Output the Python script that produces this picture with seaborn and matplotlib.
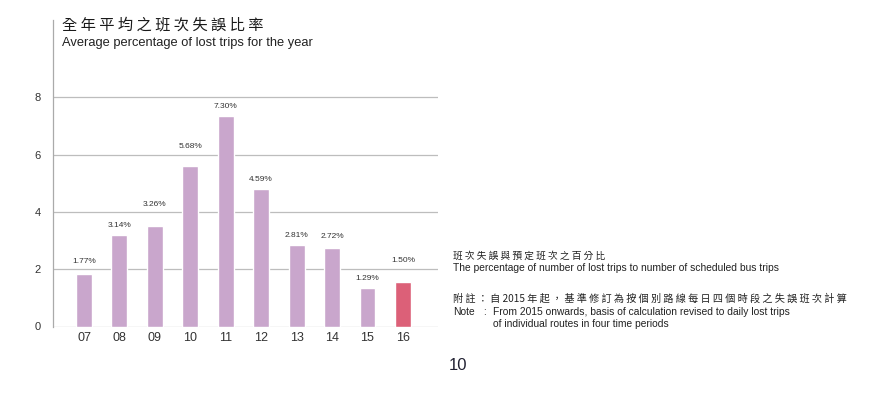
import matplotlib
matplotlib.use("Agg")
import matplotlib.pyplot as plt
import seaborn as sns
import pandas as pd

years = ["07", "08", "09", "10", "11", "12", "13", "14", "15", "16"]
heights = [1.84, 3.20, 3.51, 5.60, 7.35, 4.81, 2.86, 2.74, 1.35, 1.57]
labels = ["1.77%", "3.14%", "3.26%", "5.68%", "7.30%", "4.59%", "2.81%", "2.72%", "1.29%", "1.50%"]
yticks = [0, 2, 4, 6, 8]

title_zh = "全年平均之班次失誤比率"
title_en = "Average percentage of lost trips for the year"
desc_zh = "班次失誤與預定班次之百分比"
desc_en = "The percentage of number of lost trips to number of scheduled bus trips"
note_zh_a = "附註：自"
note_zh_year = "2015"
note_zh_b = "年起，基準修訂為按個別路線每日四個時段之失誤班次計算"
note_en1 = "From 2015 onwards, basis of calculation revised to daily lost trips"
note_en2 = "of individual routes in four time periods"
page_no = "10"

sns.set_theme(style="white")
plt.rcParams["font.family"] = ["Liberation Sans", "Noto Sans CJK TC", "DejaVu Sans"]
CJK = ["Noto Sans CJK TC", "DejaVu Sans"]

W, H = 885, 394
fig = plt.figure(figsize=(W / 100, H / 100), dpi=100)
fig.patch.set_facecolor("white")
ax = fig.add_axes([53 / W, 1 - 326.5 / H, (438 - 53) / W, (326.5 - 20) / H])

df = pd.DataFrame({"year": years, "value": heights})
bar_colors = ["#C9A6CC"] * (len(years) - 1) + ["#DC6078"]
sns.barplot(data=df, x="year", y="value", hue="year", palette=bar_colors,
            legend=False, width=0.45, saturation=1, ax=ax, zorder=3)

ax.set_xlim(-0.875, 9.99)
ax.set_ylim(0, 10.7)
ax.set_yticks(yticks)
ax.set_yticklabels([str(t) for t in yticks], fontsize=8, color="#333333")
ax.tick_params(axis="both", length=0)
ax.tick_params(axis="y", pad=9)
ax.tick_params(axis="x", pad=4, labelsize=9, labelcolor="#333333")
ax.set_xlabel("")
ax.set_ylabel("")
for t in yticks:
    ax.axhline(t, color="#BDBDBD", lw=0.9, zorder=1)
for s in ["top", "right", "bottom"]:
    ax.spines[s].set_visible(False)
ax.spines["left"].set_color("#AAAAAA")
ax.spines["left"].set_linewidth(0.9)

pads = [12, 9, 21, 20, 9, 9, 9, 12, 9, 21]
for i, (h, lab) in enumerate(zip(heights, labels)):
    ax.annotate(lab, (i, h), xytext=(0, pads[i] * 0.72), textcoords="offset points",
                ha="center", va="center", fontsize=6, color="#333333")

def fx(px):
    return px / W

def fy(py):
    return 1 - py / H

fig.text(fx(62), fy(25), " ".join(title_zh), family=CJK, fontsize=11,
         color="#1a1a1a", va="center", ha="left")
fig.text(fx(62), fy(43), title_en, fontsize=9.3, color="#222222", va="center", ha="left")

fig.text(fx(453), fy(256), " ".join(desc_zh), family=CJK, fontsize=7.0,
         color="#222222", va="center", ha="left")
fig.text(fx(453), fy(268), desc_en, fontsize=7.4, color="#222222", va="center", ha="left")

note_zh = " ".join(note_zh_a) + " " + note_zh_year + " " + " ".join(note_zh_b)
fig.text(fx(453), fy(299), note_zh, family=CJK, fontsize=7.3,
         color="#222222", va="center", ha="left")
fig.text(fx(453), fy(312), "Note", fontsize=7.4, color="#222222", va="center", ha="left")
fig.text(fx(483), fy(312), ":", fontsize=7.4, color="#222222", va="center", ha="left")
fig.text(fx(493), fy(312), note_en1, fontsize=7.4, color="#222222", va="center", ha="left")
fig.text(fx(493), fy(324), note_en2, fontsize=7.4, color="#222222", va="center", ha="left")

fig.text(fx(458), fy(366), page_no, fontsize=12, color="#222233", va="center", ha="center")

fig.savefig("out.png", dpi=100, facecolor="white")
